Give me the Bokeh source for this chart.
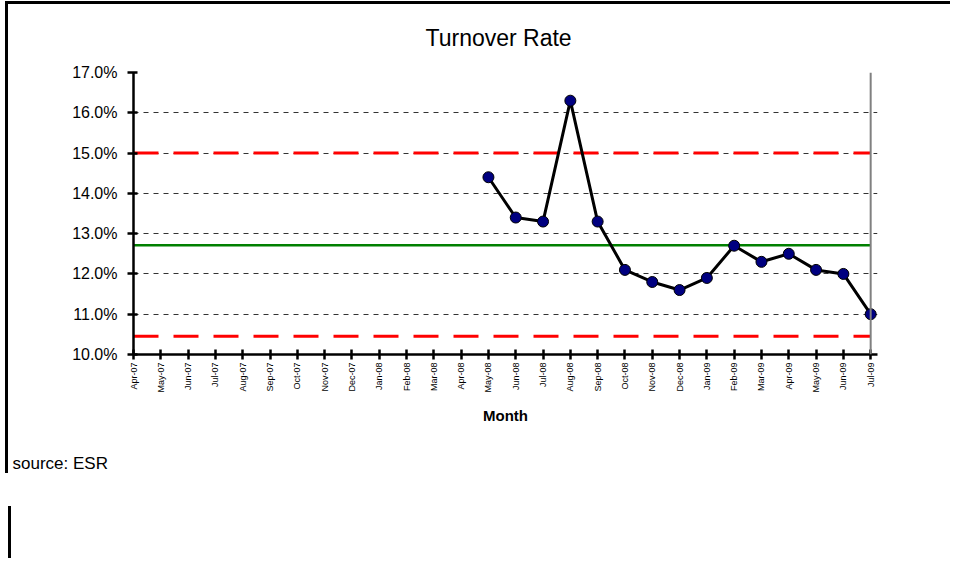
import math
from bokeh.plotting import figure
from bokeh.models import Span, Title, FixedTicker, Range1d, ColumnDataSource
from bokeh.layouts import column
from bokeh.embed import file_html
from bokeh.resources import INLINE

# ---------------- data ----------------
months = ["Apr-07", "May-07", "Jun-07", "Jul-07", "Aug-07", "Sep-07", "Oct-07", "Nov-07",
          "Dec-07", "Jan-08", "Feb-08", "Mar-08", "Apr-08", "May-08", "Jun-08", "Jul-08",
          "Aug-08", "Sep-08", "Oct-08", "Nov-08", "Dec-08", "Jan-09", "Feb-09", "Mar-09",
          "Apr-09", "May-09", "Jun-09", "Jul-09"]
data_months = ["May-08", "Jun-08", "Jul-08", "Aug-08", "Sep-08", "Oct-08", "Nov-08", "Dec-08",
               "Jan-09", "Feb-09", "Mar-09", "Apr-09", "May-09", "Jun-09", "Jul-09"]
turnover = [14.4, 13.4, 13.3, 16.3, 13.3, 12.1, 11.8, 11.6, 11.9, 12.7, 12.3, 12.5, 12.1, 12.0, 11.0]
mean_rate = 12.71
upper_limit = 15.0
lower_limit = 10.45
y_ticks = [10, 11, 12, 13, 14, 15, 16, 17]
y_tick_labels = ["10.0%", "11.0%", "12.0%", "13.0%", "14.0%", "15.0%", "16.0%", "17.0%"]

FONT = "Liberation Sans"

x_idx = list(range(len(months)))
src = ColumnDataSource(dict(x=[months.index(m) for m in data_months], y=turnover))
x_first, x_last = x_idx[0], x_idx[-1]

p = figure(width=950, height=558, output_backend="svg", toolbar_location=None,
           x_range=Range1d(x_first, x_last + 0.25), y_range=Range1d(y_ticks[0], y_ticks[-1]),
           min_border_left=133, min_border_right=73, min_border_top=72, min_border_bottom=204)
p.outline_line_color = None
p.background_fill_color = "white"
p.border_fill_color = None

# title
p.title = Title(text="Turnover Rate", align="left", offset=292, standoff=44,
                text_font=FONT, text_font_size="23px", text_font_style="normal",
                text_color="black")

# grid
p.xgrid.visible = False
p.ygrid.ticker = FixedTicker(ticks=y_ticks)
p.ygrid.grid_line_color = "#333333"
p.ygrid.grid_line_dash = "5 5"
p.ygrid.grid_line_width = 1

# control lines
p.line(x=[x_first, x_last], y=[upper_limit, upper_limit], line_color="red", line_width=3, line_dash="25 15")
p.line(x=[x_first, x_last], y=[lower_limit, lower_limit], line_color="red", line_width=3, line_dash="25 15")
p.line(x=[x_first, x_last], y=[mean_rate, mean_rate], line_color="green", line_width=2.5)
p.add_layout(Span(location=x_last, dimension="height", line_color="#808080", line_width=2))

# series
p.line("x", "y", source=src, line_color="black", line_width=3)
p.scatter("x", "y", source=src, size=11, fill_color="#000080", line_color="black", line_width=1)

# axes
p.yaxis.ticker = FixedTicker(ticks=y_ticks)
p.yaxis.major_label_overrides = dict(zip(y_ticks, y_tick_labels))
p.yaxis.major_label_text_font = FONT
p.yaxis.major_label_text_font_size = "16px"
p.yaxis.major_label_text_color = "black"
p.yaxis.major_label_standoff = 10
p.yaxis.major_tick_in = 4
p.yaxis.major_tick_out = 6
p.yaxis.minor_tick_line_color = None

p.xaxis.ticker = FixedTicker(ticks=x_idx)
p.xaxis.major_label_overrides = dict(zip(x_idx, months))
p.xaxis.major_label_orientation = math.pi / 2
p.xaxis.major_label_text_font = FONT
p.xaxis.major_label_text_font_size = "9px"
p.xaxis.major_label_text_color = "black"
p.xaxis.major_label_standoff = 3
p.xaxis.major_tick_in = 5
p.xaxis.major_tick_out = 5
p.xaxis.minor_tick_line_color = None
p.xaxis.axis_label = "Month"
p.xaxis.axis_label_text_font = FONT
p.xaxis.axis_label_text_font_style = "bold"
p.xaxis.axis_label_text_font_size = "15px"
p.xaxis.axis_label_text_color = "black"
p.xaxis.axis_label_standoff = 11

for ax in (p.xaxis, p.yaxis):
    ax.axis_line_color = "black"
    ax.axis_line_width = 2.5
    ax.major_tick_line_color = "black"
    ax.major_tick_line_width = 2.5

# source note
p.add_layout(Title(text="source: ESR", align="left", offset=-121, standoff=54,
                   vertical_align="top",
                   text_font=FONT, text_font_size="17px", text_font_style="normal",
                   text_color="black"), "below")

# chart-box frame lines painted on the wrapping container, behind the transparent canvas border
layout = column(p, width=950, height=558, styles={
    "background-image": "linear-gradient(black, black), linear-gradient(black, black), "
                        "linear-gradient(black, black)",
    "background-size": "3px 472px, 945px 3px, 3px 52px",
    "background-position": "5px 1px, 5px 1px, 8px 506px",
    "background-repeat": "no-repeat",
})

open("out.html", "w").write(file_html(layout, INLINE))
